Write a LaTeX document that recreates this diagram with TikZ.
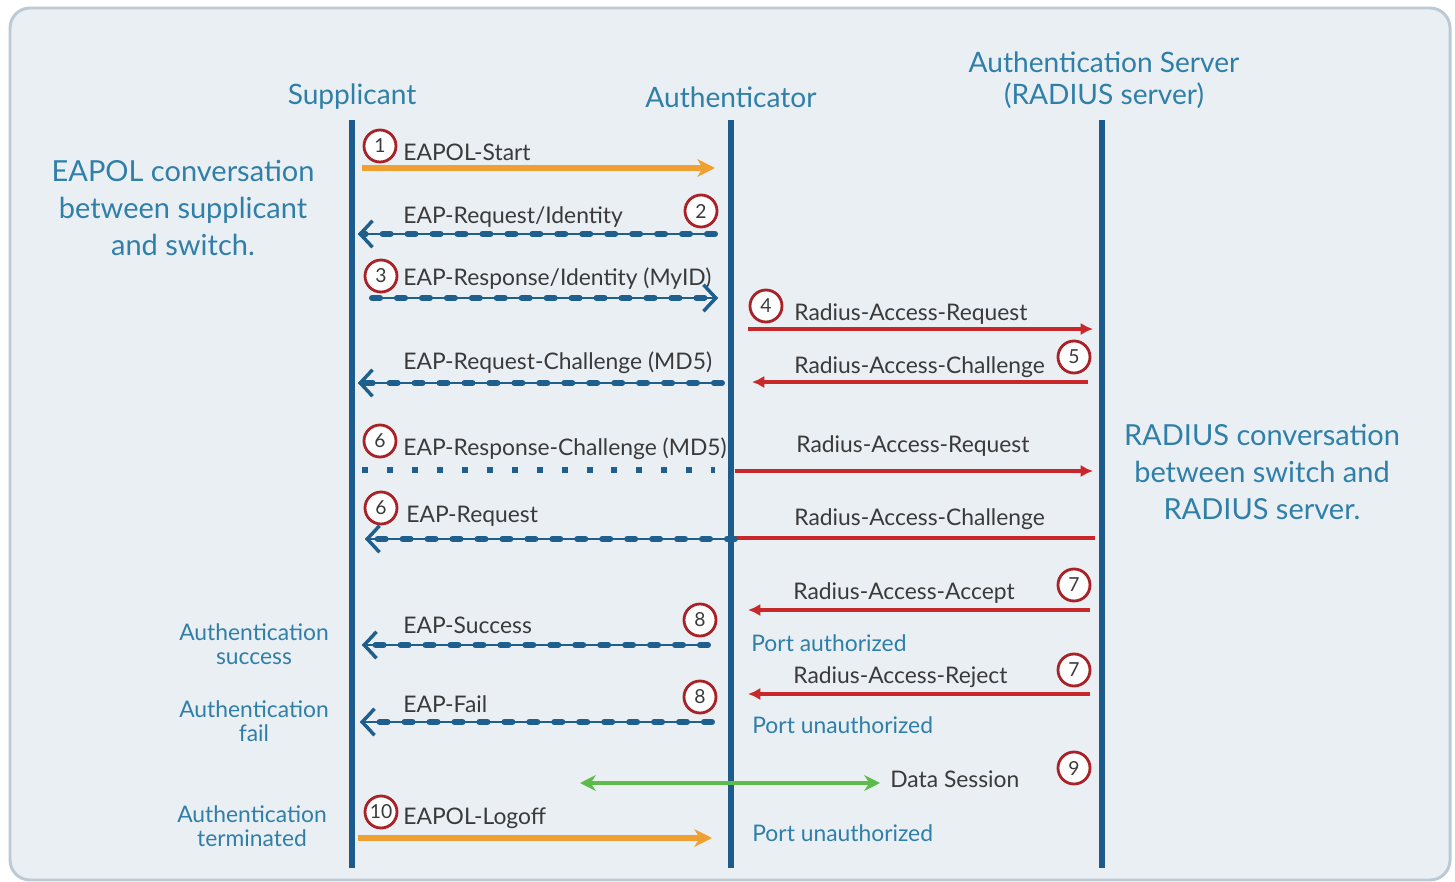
\documentclass[tikz,border=0pt]{standalone}
\usepackage{fontspec}
\setmainfont{Lato}
\usetikzlibrary{arrows.meta}
\definecolor{lifeblue}{HTML}{1D5B8C}
\definecolor{headblue}{HTML}{2F7FA8}
\definecolor{eapblue}{HTML}{1E5F8E}
\definecolor{radred}{HTML}{C8282A}
\definecolor{eapolorange}{HTML}{F0A030}
\definecolor{datagreen}{HTML}{5DBB4C}
\definecolor{stepred}{HTML}{A82228}
\definecolor{msggrey}{HTML}{3A3A3A}
\definecolor{panelfill}{HTML}{EAEFF4}
\definecolor{paneldraw}{HTML}{BCCAD5}

\begin{document}
\begin{tikzpicture}
  [x=0.02cm, y=-0.02cm,
  lifeline/.style={draw=lifeblue, line width=3pt},
  head/.style={text=headblue, font=\fontsize{16}{18.5}\selectfont, align=center},
  side/.style={text=headblue, font=\fontsize{16.5}{21.3}\selectfont, align=center},
  state/.style={text=headblue, font=\fontsize{13}{13.7}\selectfont, align=center},
  msg/.style={text=msggrey, font=\fontsize{13}{14}\selectfont, anchor=mid west, inner sep=0pt},
  num/.style={circle, draw=stepred, fill=white, line width=1.6pt, minimum size=0.64cm,
    inner sep=0pt, text=msggrey, font=\fontsize{11}{11}\selectfont},
  eapol/.style={draw=eapolorange, line width=3pt, -{Stealth[length=10pt, width=10pt, inset=3pt]}},
  eap/.style={draw=eapblue, line width=3.4pt, line cap=round, dash pattern=on 4.6pt off 9.6pt,
    preaction={draw=eapblue, line width=1.1pt, solid},
    -{Straight Barb[length=7pt, width=15pt, line width=1.8pt]}},
  dots/.style={draw=eapblue, line width=3.4pt, dash pattern=on 3.4pt off 10.8pt},
  radius/.style={draw=radred, line width=2.5pt, -{Latex[length=7pt, width=7pt]}},
  radline/.style={draw=radred, line width=2.5pt},
  data/.style={draw=datagreen, line width=1.8pt, {Stealth[length=9pt, width=9pt]}-{Stealth[length=9pt, width=9pt]}}]
  \useasboundingbox (0,0) rectangle (1455,882);
  \draw [fill=panelfill, draw=paneldraw, line width=1.7pt, rounded corners=0.4cm] (10,8) rectangle (1450,880);

  % nodes
  \node [head] (sup) at (352,97) {Supplicant};
  \node [head] (auth) at (731,97) {Authenticator};
  \node [head] (srv) at (1104,80) {Authentication Server\\(RADIUS server)};
  \node [side] (eapolnote) at (183,208) {EAPOL conversation\\between supplicant\\and switch.};
  \node [side] (radiusnote) at (1262,472) {RADIUS conversation\\between switch and\\RADIUS server.};
  \node [state] (succnote) at (254,644) {Authentication\\success};
  \node [state] (failnote) at (254,721) {Authentication\\fail};
  \node [state] (termnote) at (252,826) {Authentication\\terminated};
  \node [state, anchor=mid west, inner sep=0pt] (portok) at (751,647) {Port authorized};
  \node [state, anchor=mid west, inner sep=0pt] (portno) at (752,729) {Port unauthorized};
  \node [state, anchor=mid west, inner sep=0pt] (portoff) at (752,837) {Port unauthorized};

  \coordinate (supT) at (352,120);
  \coordinate (supB) at (352,868);
  \coordinate (authT) at (731,120);
  \coordinate (authB) at (731,868);
  \coordinate (srvT) at (1102,120);
  \coordinate (srvB) at (1102,868);

  \node [msg] (l1) at (403,156) {EAPOL-Start};
  \node [msg] (l2) at (403,219) {EAP-Request/Identity};
  \node [msg] (l3) at (403,281) {EAP-Response/Identity (MyID)};
  \node [msg] (l4) at (794,316) {Radius-Access-Request};
  \node [msg] (l5a) at (403,365) {EAP-Request-Challenge (MD5)};
  \node [msg] (l5b) at (794,369) {Radius-Access-Challenge};
  \node [msg] (l6a) at (403,451) {EAP-Response-Challenge (MD5)};
  \node [msg] (l6b) at (796,448) {Radius-Access-Request};
  \node [msg] (l6c) at (406,518) {EAP-Request};
  \node [msg] (l6d) at (794,521) {Radius-Access-Challenge};
  \node [msg] (l7a) at (793,595) {Radius-Access-Accept};
  \node [msg] (l8a) at (403,629) {EAP-Success};
  \node [msg] (l7b) at (793,679) {Radius-Access-Reject};
  \node [msg] (l8b) at (403,708) {EAP-Fail};
  \node [msg] (l9) at (890,783) {Data Session};
  \node [msg] (l10) at (403,820) {EAPOL-Logoff};

  \node [num] (n1) at (380,146) {1};
  \node [num] (n2) at (701,211) {2};
  \node [num] (n3) at (381,276) {3};
  \node [num] (n4) at (766,306) {4};
  \node [num] (n5) at (1074,357) {5};
  \node [num] (n6a) at (380,441) {6};
  \node [num] (n6b) at (381,508) {6};
  \node [num] (n7a) at (1074,585) {7};
  \node [num] (n8a) at (700,620) {8};
  \node [num] (n7b) at (1074,670) {7};
  \node [num] (n8b) at (700,697) {8};
  \node [num] (n9) at (1074,768) {9};
  \node [num] (n10) at (381,812) {10};

  % message ends
  \coordinate (a1) at (362,168);   \coordinate (b1) at (715,168);
  \coordinate (a2) at (715,234);   \coordinate (b2) at (358,234);
  \coordinate (a3) at (372,298);   \coordinate (b3) at (718,298);
  \coordinate (a4) at (748,329);   \coordinate (b4) at (1093,329);
  \coordinate (a5) at (1088,382);  \coordinate (b5) at (752,382);
  \coordinate (a5e) at (722,383);  \coordinate (b5e) at (358,383);
  \coordinate (a6) at (362,470);   \coordinate (b6) at (715,470);
  \coordinate (a6r) at (735,471);  \coordinate (b6r) at (1093,471);
  \coordinate (a6e) at (735,539);  \coordinate (b6e) at (365,539);
  \coordinate (a6r2) at (1095,538); \coordinate (b6r2) at (735,538);
  \coordinate (a7) at (1090,610);  \coordinate (b7) at (748,610);
  \coordinate (a8) at (708,645);   \coordinate (b8) at (362,645);
  \coordinate (a7r) at (1090,694); \coordinate (b7r) at (748,694);
  \coordinate (a8f) at (712,722);  \coordinate (b8f) at (360,722);
  \coordinate (a9) at (580,783);   \coordinate (b9) at (880,783);
  \coordinate (a10) at (358,838);  \coordinate (b10) at (712,838);

  % lifelines
  \path [lifeline] (supT) -- (supB);
  \path [lifeline] (authT) -- (authB);
  \path [lifeline] (srvT) -- (srvB);

  % edges
  \path [eapol] (a1) -- (b1);
  \path [eap] (a2) -- (b2);
  \path [eap] (a3) -- (b3);
  \path [radius] (a4) -- (b4);
  \path [radius] (a5) -- (b5);
  \path [eap] (a5e) -- (b5e);
  \path [dots] (a6) -- (b6);
  \path [radius] (a6r) -- (b6r);
  \path [radline] (a6r2) -- (b6r2);
  \path [eap] (a6e) -- (b6e);
  \path [radius] (a7) -- (b7);
  \path [eap] (a8) -- (b8);
  \path [radius] (a7r) -- (b7r);
  \path [eap] (a8f) -- (b8f);
  \path [data] (a9) -- (b9);
  \path [eapol] (a10) -- (b10);

\end{tikzpicture}
\end{document}
